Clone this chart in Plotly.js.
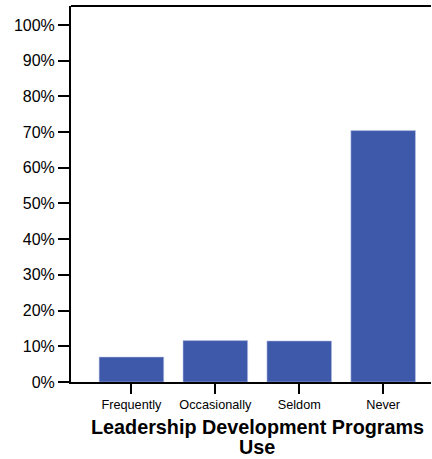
<!DOCTYPE html>
<html>
<head>
<meta charset="utf-8">
<script src="https://cdn.plot.ly/plotly-3.0.1.min.js"></script>
<style>
  html, body { margin: 0; padding: 0; background: #fff; }
  #chart { width: 432px; height: 459px; }
</style>
</head>
<body>
<div id="chart"></div>
<script>
// Share of respondents by how often leadership development programs are used
const categories = ['Frequently', 'Occasionally', 'Seldom', 'Never'];
const percentValues = [7.0, 11.6, 11.5, 70.4];
const yTickValues = [0, 10, 20, 30, 40, 50, 60, 70, 80, 90, 100];
const axisTitleLines = ['Leadership Development Programs', 'Use'];

const barTrace = {
  type: 'bar',
  x: categories,
  y: percentValues,
  marker: {
    color: '#3e58aa',
    line: { color: 'rgba(190,200,235,0.9)', width: 0.6 }
  },
  hoverinfo: 'x+y'
};

const titleFont = { family: 'Liberation Sans, Arial, sans-serif', size: 19.8, color: '#000' };

const layout = {
  width: 432,
  height: 459,
  margin: { l: 71, r: 1, t: 6, b: 77 },
  paper_bgcolor: '#fff',
  plot_bgcolor: '#fff',
  showlegend: false,
  bargap: 0.23,
  font: { family: 'Liberation Sans, Arial, sans-serif', color: '#000' },
  xaxis: {
    type: 'category',
    range: [-0.72, 3.57],
    showline: true,
    linecolor: '#000',
    linewidth: 2,
    ticks: 'outside',
    ticklen: 10,
    tickwidth: 2,
    tickcolor: '#000',
    tickfont: { size: 12.7, color: '#000' },
    showgrid: false,
    zeroline: false,
    fixedrange: true
  },
  yaxis: {
    range: [0, 105.3],
    tickvals: yTickValues,
    ticktext: yTickValues.map(v => v + '%'),
    showline: true,
    linecolor: '#000',
    linewidth: 2,
    ticks: 'outside',
    ticklen: 11,
    tickwidth: 2,
    tickcolor: '#000',
    tickfont: { size: 16, color: '#000' },
    showgrid: false,
    zeroline: false,
    fixedrange: true
  },
  shapes: [
    {
      type: 'line', xref: 'paper', yref: 'paper',
      x0: 0, x1: 1, y0: 1, y1: 1,
      line: { color: '#000', width: 2 }
    }
  ],
  annotations: [
    {
      text: '<b>' + axisTitleLines[0] + '</b>',
      xref: 'paper', yref: 'paper',
      x: 0.518, y: -0.12,
      xanchor: 'center', yanchor: 'middle',
      showarrow: false,
      font: titleFont
    },
    {
      text: '<b>' + axisTitleLines[1] + '</b>',
      xref: 'paper', yref: 'paper',
      x: 0.518, y: -0.174,
      xanchor: 'center', yanchor: 'middle',
      showarrow: false,
      font: titleFont
    }
  ]
};

Plotly.newPlot('chart', [barTrace], layout, { displayModeBar: false, staticPlot: true });
</script>
</body>
</html>
